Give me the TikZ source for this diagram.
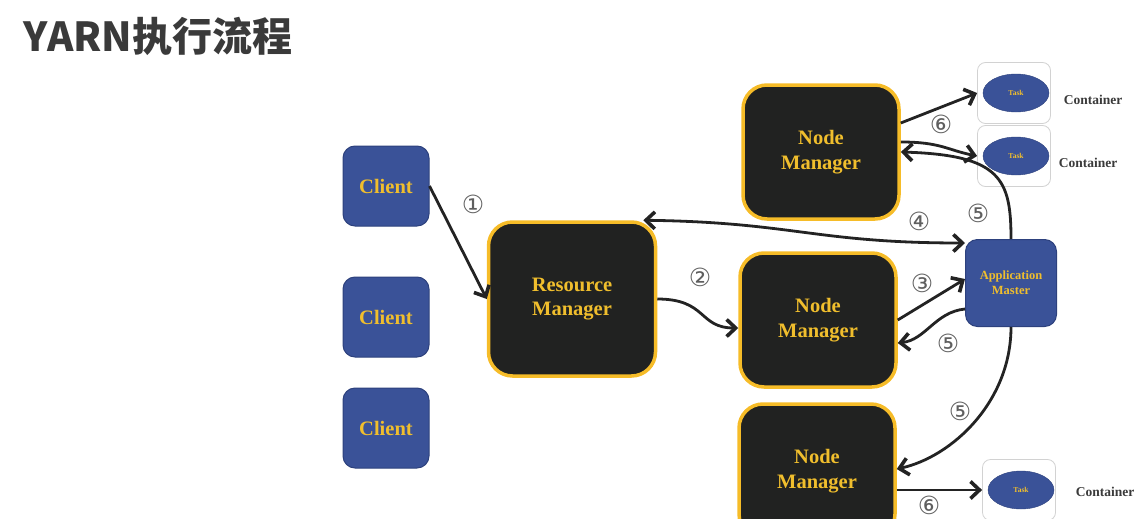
\documentclass[tikz,border=0pt]{standalone}
\usepackage{fontspec}
\setmainfont{Liberation Serif}
\newfontfamily\cjkfont{Noto Sans CJK SC}
\newfontfamily\numfont{DejaVu Sans}
\usetikzlibrary{arrows.meta,shapes.geometric}

\definecolor{boxblue}{RGB}{58,82,152}
\definecolor{boxedge}{RGB}{45,65,125}
\definecolor{mgrfill}{RGB}{33,34,33}
\definecolor{mgredge}{RGB}{246,188,40}
\definecolor{gold}{RGB}{240,190,45}
\definecolor{flowc}{RGB}{35,35,35}
\definecolor{numc}{RGB}{95,95,95}
\definecolor{titlec}{RGB}{58,58,58}

\tikzset{
  client/.style = {draw = boxedge, fill = boxblue, line width = 1pt, rounded corners = 12pt, minimum width = 86pt, minimum height = 80pt, text = gold, font = \bfseries\fontsize{20.5}{24}\selectfont},
  am/.style = {client, align = center, minimum width = 91pt, minimum height = 87pt, font = \bfseries\fontsize{12.5}{15}\selectfont},
  mgr/.style = {draw = mgredge, fill = mgrfill, line width = 3.5pt, rounded corners = 24pt, minimum width = 156pt, minimum height = 134pt, align = center, text = gold, font = \bfseries\fontsize{20.5}{24.5}\selectfont},
  box/.style = {draw = gray!35, fill = white, line width = 0.8pt, rounded corners = 8pt, minimum width = 73pt, minimum height = 61pt},
  task/.style = {ellipse, draw = boxedge, fill = boxblue, inner sep = 0pt, minimum width = 66pt, minimum height = 38pt, text = gold, font = \bfseries\fontsize{7.5}{9}\selectfont},
  ctext/.style = {text = titlec, font = \bfseries\fontsize{13.5}{16}\selectfont},
  num/.style = {text = numc, font = \numfont\fontsize{25}{26}\selectfont},
  flow/.style = {draw = flowc, line width = 2.8pt, ->}
}

\begin{document}
\begin{tikzpicture}[x = 1pt, y = -1pt, >={Straight Barb[length=9pt, width=17pt, line width=3.6pt]}]
\useasboundingbox (0,0) rectangle (1137,519);
\clip (0,0) rectangle (1137,519);
\node [anchor = base west, text = titlec, font = \cjkfont\bfseries\fontsize{40}{44}\selectfont] (title) at (20,52) {YARN执行流程};

% clients and managers
\foreach \y [count = \i] in {186,317,428}
\node [client] (c\i) at (386,\y) {Client};
\node [mgr, minimum width = 167pt, minimum height = 154pt] (rm) at (572,299) {Resource\\Manager};
\node [mgr] (nm1) at (821,152) {Node\\Manager};
\node [mgr] (nm2) at (818,320) {Node\\Manager};
\node [mgr] (nm3) at (817,471) {Node\\Manager};
\node [am] (am) at (1011,283) {Application\\Master};

% containers
\foreach \x/\y/\tx/\ty [count = \i] in {1014/93/1093/100, 1014/156/1088/163, 1019/490/1105/492} {
  \node [box] (ct\i) at (\x,\y) {};
  \node [task] (t\i) at (\x+2,\y) {Task};
  \node [ctext] (cl\i) at (\tx,\ty) {Container};
}

% arrows
\draw [flow] (c1.east) -- (rm.west);
\draw [flow] (rm.east) .. controls +(50,0) and +(-40,0) .. ([yshift = -8pt]nm2.west);
\draw [flow, <->] ([xshift = -14pt]rm.north east) .. controls +(150,2) and +(-150,0) .. ([yshift = -4pt]am.north west);
\draw [flow] (nm2.east) -- ([yshift = 4pt]am.west);
\draw [flow] ([yshift = -26pt]am.west) .. controls +(-30,3) and +(28,-3) .. ([yshift = -23pt]nm2.east);
\draw [flow] (am.south) .. controls +(0,75) and +(55,-12) .. ([yshift = 2pt]nm3.east);
\draw [flow] (am.north) .. controls +(0,-60) and +(100,3) .. (nm1.east);
\draw [flow] ([yshift = 29pt]nm1.east) -- (ct1.west);
\draw [flow] ([yshift = 10pt]nm1.east) .. controls +(40,0) and +(-30,-6) .. (ct2.west);
\draw [flow] ([yshift = -19pt]nm3.east) -- (ct3.west);

% step numbers
\foreach \t/\x/\y [count = \i] in {①/473/204, ②/700/277, ③/922/283, ④/919/221, ⑤/978/213, ⑤/948/343, ⑤/960/411, ⑥/941/124, ⑥/929/505}
\node [num] (n\i) at (\x,\y) {\t};
\end{tikzpicture}
\end{document}
